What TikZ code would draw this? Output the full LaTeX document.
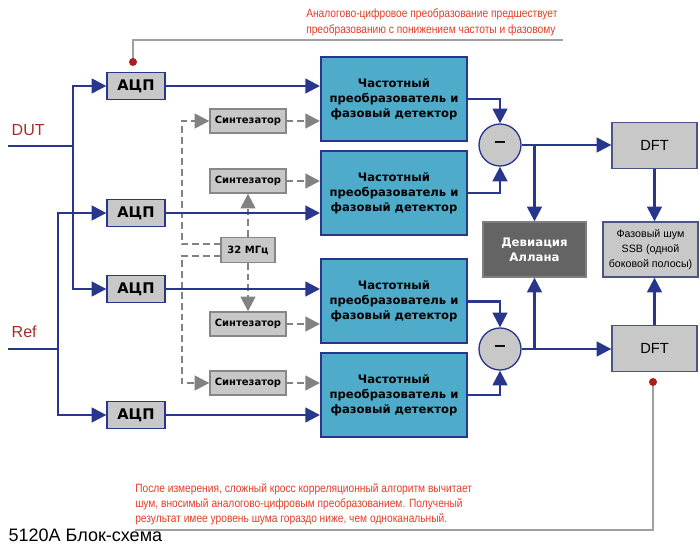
\documentclass[tikz,border=0pt]{standalone}
\usepackage{fontspec}
\setmainfont{Liberation Sans}
\newfontfamily\boxfont{DejaVu Sans}
\newfontfamily\notefont{Liberation Sans}[FakeStretch=0.85]
\usetikzlibrary{arrows.meta}

\definecolor{navy}{RGB}{40,55,140}
\definecolor{fdblue}{RGB}{78,172,202}
\definecolor{boxgray}{RGB}{200,200,200}
\definecolor{edgegray}{RGB}{135,135,135}
\definecolor{dashgray}{RGB}{130,130,130}
\definecolor{devgray}{RGB}{100,100,100}
\definecolor{notered}{RGB}{228,62,40}
\definecolor{labelred}{RGB}{165,45,40}
\definecolor{dotred}{RGB}{170,30,30}
\definecolor{callgray}{RGB}{160,160,160}

\begin{document}
\begin{tikzpicture}[
    x = 0.75pt, y = -0.75pt,
    >= {Triangle[length=11pt,width=11pt]},
    sig/.style = {draw=navy, line width=1.8pt},
    clk/.style = {draw=dashgray, line width=1.8pt, dash pattern=on 5pt off 3pt},
    callout/.style = {draw=callgray, line width=0.9pt},
    dot/.style = {circle, fill=dotred, inner sep=0pt, minimum size=6pt},
    adcbox/.style = {
        draw=navy, fill=boxgray, line width=1pt, inner sep=0pt,
        minimum width=43.5pt, minimum height=20.25pt,
        font=\boxfont\bfseries\fontsize{11}{13}\selectfont
    },
    fdbox/.style = {
        draw=navy, fill=fdblue, line width=1.5pt, inner sep=0pt, align=center,
        minimum width=109.5pt, minimum height=63pt,
        font=\boxfont\bfseries\fontsize{8.7}{11.25}\selectfont
    },
    synbox/.style = {
        draw=edgegray, fill=boxgray, line width=1pt, inner sep=0pt,
        minimum width=57pt, minimum height=18pt,
        font=\boxfont\bfseries\fontsize{7.5}{9}\selectfont
    },
    subnode/.style = {
        circle, draw=navy, fill=boxgray, line width=1pt, inner sep=0pt,
        minimum size=31.5pt, font=\boxfont\bfseries\fontsize{12}{14}\selectfont
    },
    dftbox/.style = {
        draw=navy!60!gray, fill=boxgray, line width=1pt, inner sep=0pt,
        minimum width=63.75pt, minimum height=34.5pt,
        font=\fontsize{11}{13}\selectfont
    },
    note/.style = {text=notered, inner sep=0pt, align=left}
]
\useasboundingbox (0,0) rectangle (700,545);

% inputs
\node[anchor=west, text=labelred, font=\fontsize{12}{14}\selectfont] (dut) at (7,130) {DUT};
\node[anchor=west, text=labelred, font=\fontsize{12}{14}\selectfont] (ref) at (7,332) {Ref};
\coordinate (dutin) at (8,146);
\coordinate (dutsplit) at (73,146);
\coordinate (refin) at (8,349);
\coordinate (refsplit) at (58,349);

% converters
\node[adcbox] (adc1) at (136,86) {АЦП};
\node[adcbox] (adc2) at (136,213) {АЦП};
\node[adcbox] (adc3) at (136,289) {АЦП};
\node[adcbox] (adc4) at (136,415) {АЦП};

\node[fdbox] (fd1) at (394,99) {Частотный\\преобразователь и\\фазовый детектор};
\node[fdbox] (fd2) at (394,193) {Частотный\\преобразователь и\\фазовый детектор};
\node[fdbox] (fd3) at (394,301.5) {Частотный\\преобразователь и\\фазовый детектор};
\node[fdbox] (fd4) at (394,395) {Частотный\\преобразователь и\\фазовый детектор};

% synthesizers and clock
\node[synbox] (syn1) at (248,121) {Синтезатор};
\node[synbox] (syn2) at (248,181) {Синтезатор};
\node[synbox] (syn3) at (248,324) {Синтезатор};
\node[synbox] (syn4) at (248,383) {Синтезатор};
\node[synbox, minimum width=40.5pt, minimum height=18.75pt] (clock) at (248,250) {32 МГц};
\coordinate (bus) at (182,0);

% outputs
\node[subnode] (sub1) at (500,145) {−};
\node[subnode] (sub2) at (500,349) {−};
\node[dftbox] (dft1) at (654.5,145.5) {DFT};
\node[dftbox] (dft2) at (654.5,348.5) {DFT};
\node[draw=gray, fill=devgray, line width=1pt, minimum width=77.25pt, minimum height=41.25pt,
      inner sep=0pt, align=center, text=white,
      font=\boxfont\bfseries\fontsize{8.8}{11.25}\selectfont] (dev) at (534.5,249.5) {Девиация\\Аллана};
\node[draw=navy!60!gray, fill=boxgray, line width=1pt, minimum width=71.25pt, minimum height=41.25pt,
      inner sep=0pt, align=center, font=\fontsize{8}{11.25}\selectfont] (pn) at (650.5,249.5)
      {Фазовый шум\\SSB (одной\\боковой полосы)};

% clock lines
\draw[clk,->] ([yshift=4.5pt]clock.west) -- ([yshift=4.5pt]clock.west -| bus) |- (syn1.west);
\draw[clk,->] ([yshift=-4.5pt]clock.west) -- ([yshift=-4.5pt]clock.west -| bus) |- (syn4.west);
\draw[clk,->] (clock.north) -- (syn2.south);
\draw[clk,->] (clock.south) -- (syn3.north);
\draw[clk,->] (syn1.east) -- (syn1.east -| fd1.west);
\draw[clk,->] (syn2.east) -- (syn2.east -| fd2.west);
\draw[clk,->] (syn3.east) -- (syn3.east -| fd3.west);
\draw[clk,->] (syn4.east) -- (syn4.east -| fd4.west);

% signal lines
\draw[sig] (dutin) -- (dutsplit);
\draw[sig,->] (dutsplit) |- (adc1.west);
\draw[sig,->] (dutsplit) |- (adc3.west);
\draw[sig] (refin) -- (refsplit);
\draw[sig,->] (refsplit) |- (adc2.west);
\draw[sig,->] (refsplit) |- (adc4.west);
\draw[sig,->] (adc1.east) -- (adc1.east -| fd1.west);
\draw[sig,->] (adc2.east) -- (adc2.east -| fd2.west);
\draw[sig,->] (adc3.east) -- (adc3.east -| fd3.west);
\draw[sig,->] (adc4.east) -- (adc4.east -| fd4.west);
\draw[sig,->] (fd1.east) -| (sub1.north);
\draw[sig,->] (fd2.east) -| (sub1.south);
\draw[sig,->] (fd3.east) -| (sub2.north);
\draw[sig,->] (fd4.east) -| (sub2.south);
\draw[sig,->] (sub1.east) -- (sub1.east -| dft1.west);
\draw[sig,->] (sub2.east) -- (sub2.east -| dft2.west);
\draw[sig,->] (sub1.east -| dev.north) -- (dev.north);
\draw[sig,->] (sub2.east -| dev.south) -- (dev.south);
\draw[sig,->] (dft1.south) -- (dft1.south |- pn.north);
\draw[sig,->] (dft2.north) -- (dft2.north |- pn.south);

% notes
\node[note, anchor=west, font=\notefont\fontsize{9}{12}\selectfont] (noteA) at (306,22)
    {Аналогово-цифровое преобразование предшествует\\преобразованию с понижением частоты и фазовому};
\node[note, anchor=west, font=\notefont\fontsize{9}{11.25}\selectfont] (noteB) at (135,504)
    {После измерения, сложный кросс корреляционный алгоритм вычитает\\шум, вносимый аналогово-цифровым преобразованием. Полученый\\результат имее уровень шума гораздо ниже, чем одноканальный.};
\coordinate (callA) at (563,40);
\coordinate (callB) at (135,530);
\draw[callout] (133,62) coordinate (dotA) |- (callA);
\draw[callout] (653,382) coordinate (dotB) |- (callB);
\node[dot] at (dotA) {};
\node[dot] at (dotB) {};

\node[anchor=west, font=\fontsize{13.5}{15}\selectfont] (title) at (4,535) {5120A Блок-схема};
\end{tikzpicture}
\end{document}
